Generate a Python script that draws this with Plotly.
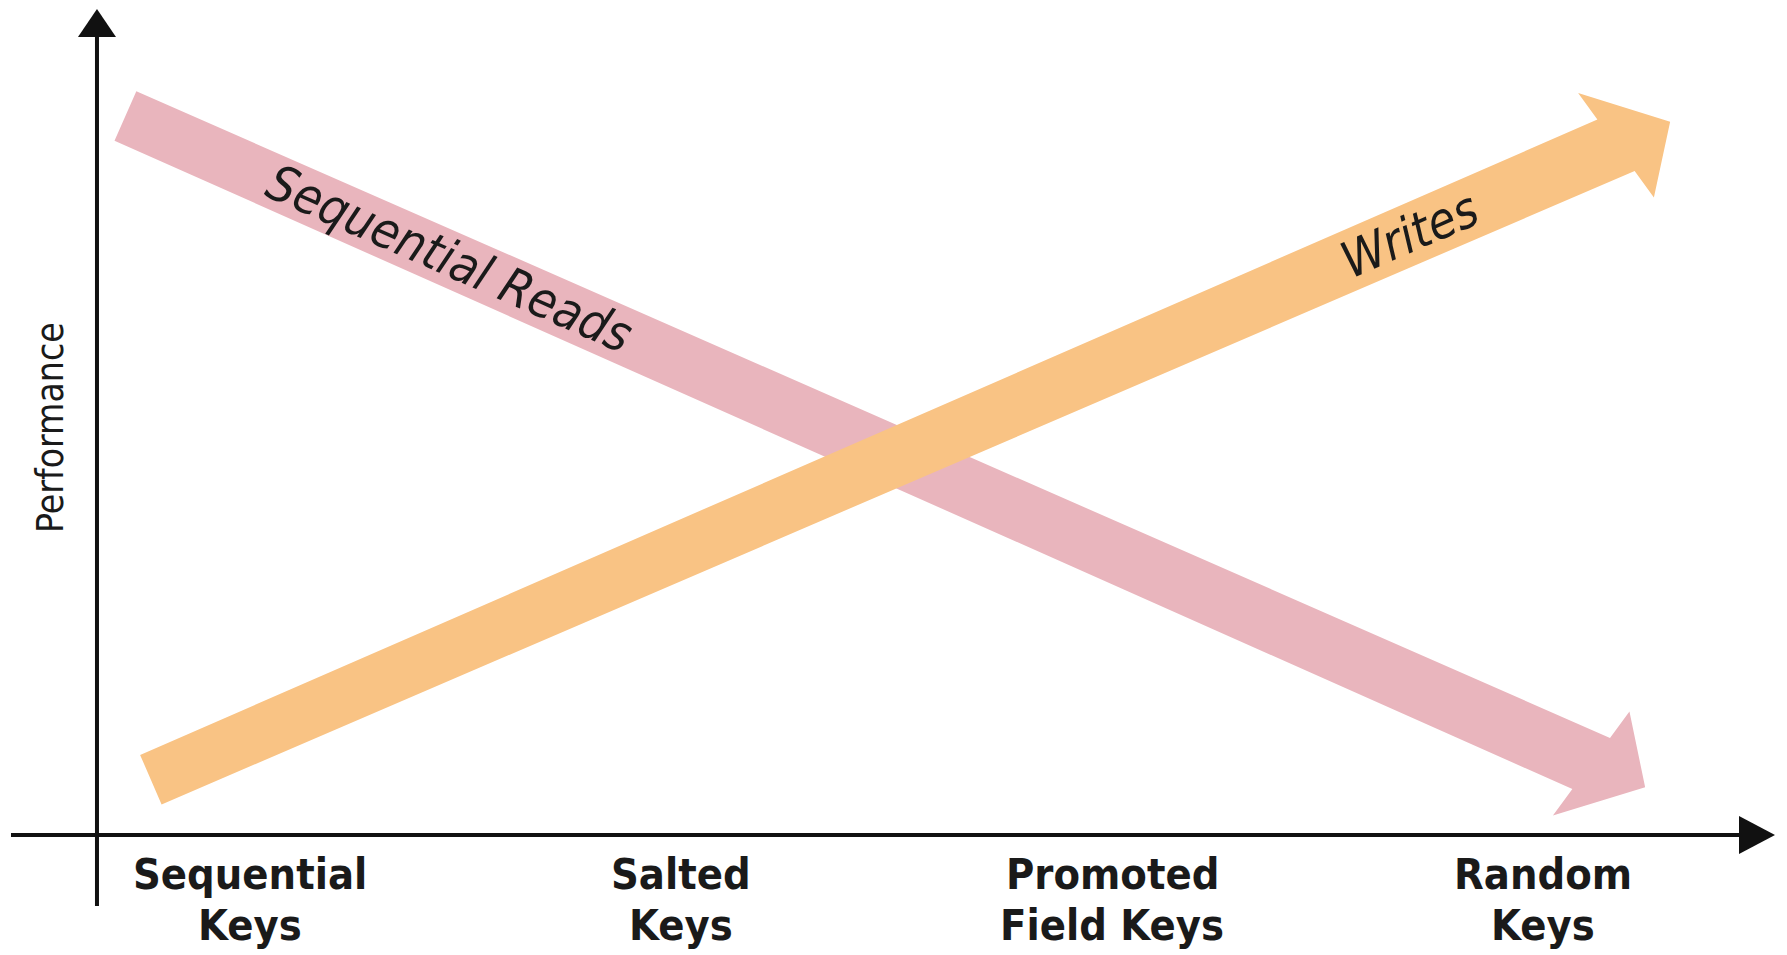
import numpy as np
import plotly.graph_objects as go

# ---------------- data ----------------
categories = ["Sequential<br>Keys", "Salted<br>Keys", "Promoted<br>Field Keys", "Random<br>Keys"]
reads = [8.30, 5.92, 3.54, 1.16]      # Sequential Reads performance (relative units)
writes = [1.23, 3.56, 5.89, 8.23]     # Writes performance (relative units)
series_names = ["Sequential Reads", "Writes"]
y_title = "Performance"

# ---------------- layout / style ----------------
W, H = 1787, 955
X_RANGE = [-0.5800, 3.5661]
Y_RANGE = [-1.5, 10.4375]
KX = W / (X_RANGE[1] - X_RANGE[0])
KY = H / (Y_RANGE[1] - Y_RANGE[0])

PINK = "#E9B5BD"
ORANGE = "#F9C384"
AXIS_COLOR = "#111111"
NARROW = "DejaVu Sans Condensed, Liberation Sans Narrow, Arial Narrow, sans-serif"


def to_px(x, y):
    return np.array([(x - X_RANGE[0]) * KX, (Y_RANGE[1] - y) * KY])


def to_data(p):
    return X_RANGE[0] + p[0] / KX, Y_RANGE[1] - p[1] / KY


def arrow_polygon(values, x_start, x_end, w0=54, w1=62, head_half=63, head_len=59, skew=14):
    xs = np.arange(len(values))
    m, b = np.polyfit(xs, values, 1)
    p0 = to_px(x_start, m * x_start + b)
    p1 = to_px(x_end, m * x_end + b)
    d = p1 - p0
    length = float(np.hypot(*d))
    u = d / length
    n = np.array([-u[1], u[0]])
    barbs = {}
    for s in (1, -1):
        screen_left = (s * n[0]) < 0
        back = head_len + (skew if screen_left else -skew)
        barbs[s] = (-back, s * head_half)
    (uA, nA), (uB, nB) = barbs[1], barbs[-1]

    def junction(nv):
        return uA + (nv - nA) * (uB - uA) / (nB - nA)

    hw1 = w1 / 2
    local = [(-length, -w0 / 2), (junction(-hw1), -hw1), barbs[-1], (0.0, 0.0),
             barbs[1], (junction(hw1), hw1), (-length, w0 / 2), (-length, -w0 / 2)]
    pts = [p1 + a * u + c * n for a, c in local]
    xs_d, ys_d = zip(*[to_data(p) for p in pts])
    angle = float(np.degrees(np.arctan2(d[1], d[0])))
    return list(xs_d), list(ys_d), (m, b), angle


fig = go.Figure()

annotations = []
for vals, name, color, xs0, xs1, lab_x in [
    (reads, series_names[0], PINK, -0.289, 3.237, 0.464),
    (writes, series_names[1], ORANGE, -0.230, 3.295, 2.69),
]:
    px_, py_, (m, b), ang = arrow_polygon(vals, xs0, xs1)
    fig.add_trace(go.Scatter(x=px_, y=py_, mode="lines", fill="toself", fillcolor=color,
                             line=dict(width=0, color=color), hoverinfo="skip", name=name))
    annotations.append(dict(x=lab_x, y=m * lab_x + b, xref="x", yref="y", text=name,
                            showarrow=False, textangle=ang,
                            font=dict(family=NARROW, size=50, color="#1a1a1a", style="italic")))

# axes drawn as arrows
Y_AXIS_X = -0.355
X_AXIS_Y = 0.0
x_line_start, x_line_end, x_tip, x_base = -0.5545, 3.47, 3.5383, 3.4548
y_line_start, y_line_end, y_tip, y_base = -0.8875, 10.0, 10.325, 9.975
head_half_px = 19

fig.add_trace(go.Scatter(x=[x_line_start, x_line_end], y=[X_AXIS_Y, X_AXIS_Y], mode="lines",
                         line=dict(color=AXIS_COLOR, width=4), hoverinfo="skip"))
fig.add_trace(go.Scatter(x=[Y_AXIS_X, Y_AXIS_X], y=[y_line_start, y_line_end], mode="lines",
                         line=dict(color=AXIS_COLOR, width=4), hoverinfo="skip"))
hy = head_half_px / KY
hx = head_half_px / KX
fig.add_trace(go.Scatter(x=[x_tip, x_base, x_base, x_tip], y=[X_AXIS_Y, X_AXIS_Y + hy, X_AXIS_Y - hy, X_AXIS_Y],
                         mode="lines", fill="toself", fillcolor=AXIS_COLOR,
                         line=dict(width=0, color=AXIS_COLOR), hoverinfo="skip"))
fig.add_trace(go.Scatter(x=[Y_AXIS_X, Y_AXIS_X - hx, Y_AXIS_X + hx, Y_AXIS_X], y=[y_tip, y_base, y_base, y_tip],
                         mode="lines", fill="toself", fillcolor=AXIS_COLOR,
                         line=dict(width=0, color=AXIS_COLOR), hoverinfo="skip"))

# category labels
for i, cat in enumerate(categories):
    for j, line in enumerate(cat.split("<br>")):
        annotations.append(dict(x=i, y=X_AXIS_Y, xref="x", yref="y", text=line, showarrow=False,
                                yanchor="middle", xanchor="center", yshift=-39 - 51 * j,
                                font=dict(family=NARROW, size=43, color="#1a1a1a", weight="bold")))

annotations.append(dict(x=Y_AXIS_X, y=5.1, xref="x", yref="y", text=y_title, showarrow=False,
                        textangle=-90, xshift=-47, xanchor="center", yanchor="middle",
                        font=dict(family=NARROW, size=37, color="#1a1a1a")))

fig.update_layout(
    width=W, height=H, margin=dict(l=0, r=0, t=0, b=0),
    paper_bgcolor="white", plot_bgcolor="white", showlegend=False,
    xaxis=dict(range=X_RANGE, visible=False, fixedrange=True),
    yaxis=dict(range=Y_RANGE, visible=False, fixedrange=True),
    annotations=annotations,
)

fig.write_html("out.html", config={"displayModeBar": False},
               post_script="document.body.style.margin='0';document.body.style.overflow='hidden';")
